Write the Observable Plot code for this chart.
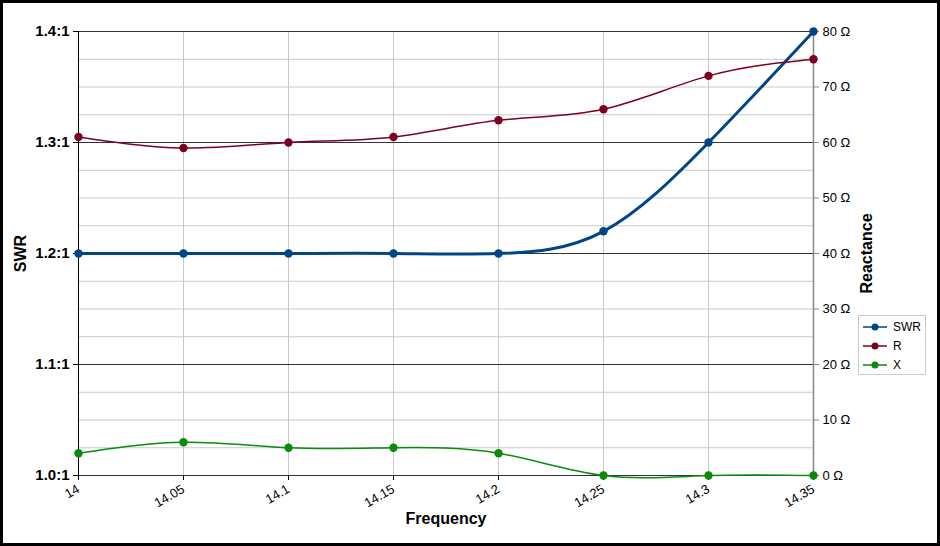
<!DOCTYPE html>
<html>
<head>
<meta charset="utf-8">
<script src="https://cdn.jsdelivr.net/npm/d3@7"></script>
<script src="https://cdn.jsdelivr.net/npm/@observablehq/plot@0.6"></script>
<style>
  body { margin: 0; background: #fff; font-family: "Liberation Sans", Arial, sans-serif; }
  #wrap { position: relative; width: 940px; height: 546px; }
  #border { position: absolute; left: 0; top: 0; width: 940px; height: 546px; box-sizing: border-box; border: 3px solid #000; pointer-events: none; }
  #legend { position: absolute; left: 858px; top: 315px; width: 66px; height: 58px; border: 1px solid #ccc; background: #fff; font-size: 12px; }
  .item { position: absolute; left: 4px; height: 14px; }
  .item svg { position: absolute; left: 0; top: 0; }
  .item span { position: absolute; left: 30px; top: 0; }
</style>
</head>
<body>
<div id="wrap">
  <div id="chart"></div>
  <div id="legend"></div>
  <div id="border"></div>
</div>
<script>
// values
const freq = [14, 14.05, 14.1, 14.15, 14.2, 14.25, 14.3, 14.35]
const swr = [1.2, 1.2, 1.2, 1.2, 1.2, 1.22, 1.3, 1.4]
const rOhm = [61, 59, 60, 61, 64, 66, 72, 75]
const xOhm = [4, 6, 5, 5, 4, 0, 0, 0]

const swrTicks = [1.0, 1.1, 1.2, 1.3, 1.4]
const ohmTicks = [0, 10, 20, 30, 40, 50, 60, 70, 80]
const minorOhm = d3.range(0, 81, 5)

const series = [
  {name: 'SWR', color: '#004586', width: 3},
  {name: 'R', color: '#7e0021', width: 1.5},
  {name: 'X', color: '#0b8a0b', width: 1.5}
]

// ohms share the SWR axis: 0 Ω = 1.0:1, 80 Ω = 1.4:1
const ohmToSwr = o => 1 + o / 200

const rows = freq.flatMap((f, i) => [
  {f, key: 'SWR', y: swr[i]},
  {f, key: 'R', y: ohmToSwr(rOhm[i])},
  {f, key: 'X', y: ohmToSwr(xOhm[i])}
])

const colorOf = k => series.find(s => s.name === k).color

let chart = Plot.plot({
  width: 940,
  height: 546,
  marginLeft: 78,
  marginRight: 127,
  marginTop: 31,
  marginBottom: 71,
  style: {fontFamily: '"Liberation Sans", Arial, sans-serif', color: '#000', background: 'transparent'},
  x: {domain: [14, 14.35]},
  y: {domain: [1.0, 1.4]},
  marks: [
    Plot.ruleY(minorOhm.map(ohmToSwr), {stroke: '#c8c8c8', strokeOpacity: 1}),
    Plot.ruleX(freq, {stroke: '#c8c8c8', strokeOpacity: 1}),
    Plot.ruleY(swrTicks, {stroke: '#333', strokeOpacity: 1}),
    Plot.ruleX([14.35], {stroke: '#888', strokeWidth: 1.5}),
    Plot.ruleX([14], {stroke: '#000'}),
    Plot.axisY({
      anchor: 'left', ticks: swrTicks, tickSize: 5, label: null,
      tickFormat: d => d.toFixed(1) + ':1', fontSize: 15, fontWeight: 'bold'
    }),
    Plot.axisY({
      anchor: 'right', ticks: ohmTicks.map(ohmToSwr), tickSize: 5, label: null, stroke: '#888',
      tickFormat: d => Math.round((d - 1) * 200) + ' Ω', fontSize: 13
    }),
    Plot.axisX({
      ticks: freq, tickSize: 5, label: null, tickRotate: -30,
      tickFormat: d => String(+d.toFixed(2)), fontSize: 13
    }),
    ...series.map(s => Plot.line(rows.filter(d => d.key === s.name), {
      x: 'f', y: 'y', stroke: s.color, strokeWidth: s.width, curve: 'natural'
    })),
    Plot.dot(rows, {x: 'f', y: 'y', fill: d => colorOf(d.key), r: 4.2}),
    Plot.text(['SWR'], {frameAnchor: 'left', dx: -58, rotate: -90, textAnchor: 'middle', fontSize: 16, fontWeight: 'bold'}),
    Plot.text(['Reactance'], {frameAnchor: 'right', dx: 53, rotate: -90, textAnchor: 'middle', fontSize: 16, fontWeight: 'bold'}),
    Plot.text(['Frequency'], {frameAnchor: 'bottom', dy: 48, fontSize: 16, fontWeight: 'bold'})
  ]
})

d3.select('#chart').append(() => chart)

// legend
const legend = d3.select('#legend')
series.forEach((s, i) => {
  const item = legend.append('div').attr('class', 'item').style('top', (4 + i * 19) + 'px')
  const svg = item.append('svg').attr('width', 28).attr('height', 14)
  svg.append('line').attr('x1', 0).attr('x2', 24).attr('y1', 7).attr('y2', 7)
    .attr('stroke', s.color).attr('stroke-width', 1.5)
  svg.append('circle').attr('cx', 12).attr('cy', 7).attr('r', 3.5).attr('fill', s.color)
  item.append('span').text(s.name)
})
</script>
</body>
</html>
